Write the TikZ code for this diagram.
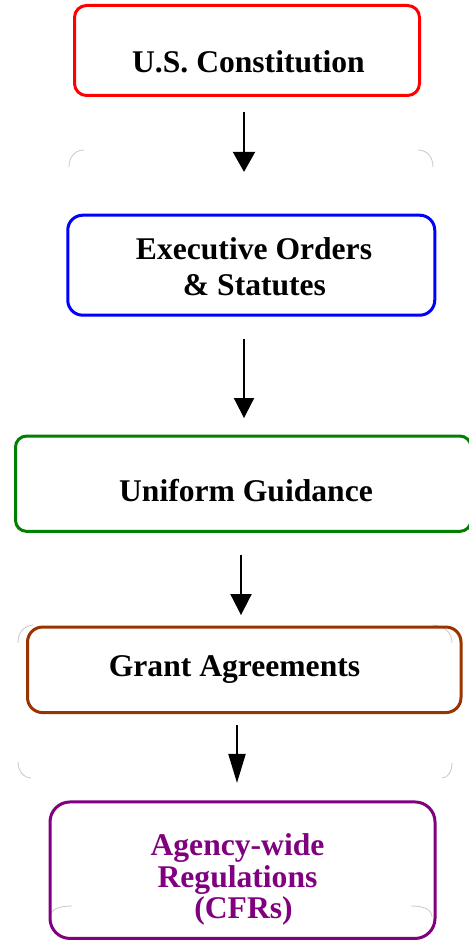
\documentclass[tikz,border=0pt]{standalone}
\usepackage{fontspec}
\setmainfont{Liberation Serif}
\usetikzlibrary{arrows.meta}

\definecolor{boxred}{RGB}{255,0,0}
\definecolor{boxblue}{RGB}{0,0,255}
\definecolor{boxgreen}{RGB}{0,128,0}
\definecolor{boxbrown}{RGB}{153,51,0}
\definecolor{boxpurple}{RGB}{128,0,128}
\definecolor{ghost}{RGB}{200,200,200}

\begin{document}
\begin{tikzpicture}[x=1pt, y=-1pt,
  stage/.style={draw=#1, line width=3pt, rounded corners=13pt, outer sep=0pt,
                inner sep=0pt, fill=none},
  label/.style={inner sep=0pt, anchor=base, font=\bfseries\fontsize{31.6}{36}\selectfont},
  link/.style={line width=2pt, shorten <=#1},
  ghostarc/.style={draw=ghost, line width=0.8pt}]

  \useasboundingbox[fill=white] (0,0) rectangle (468,941);

  % faint outlines of corners left behind
  \path[ghostarc] (69,167) .. controls (69,157) and (75,150) .. (84,150);
  \path[ghostarc] (418,150) .. controls (427,150) and (433,157) .. (433,167);
  \path[ghostarc] (18,762) .. controls (18,771) and (24,778) .. (31,778);
  \path[ghostarc] (452,763) .. controls (452,771) and (448,778) .. (442,778);
  \path[ghostarc] (18,643) .. controls (18,632) and (24,626) .. (33,625);
  \path[ghostarc] (433,625) .. controls (444,626) and (452,632) .. (452,643);
  \path[ghostarc] (50,917) .. controls (50,910) and (58,906) .. (72,906);
  \path[ghostarc] (411,906) .. controls (425,906) and (432,910) .. (432,917);

  % the five levels
  \node[stage=boxred, minimum width=345pt, minimum height=90pt,
        rounded corners=12pt] (constitution) at (247,50.5) {};
  \node[stage=boxblue, minimum width=367pt, minimum height=100pt,
        rounded corners=15pt] (orders) at (251.25,265.2) {};
  \node[stage=boxgreen, minimum width=455.5pt, minimum height=95.3pt,
        rounded corners=11pt] (guidance) at (243.25,483.7) {};
  \node[stage=boxbrown, minimum width=433.5pt, minimum height=85.5pt,
        rounded corners=15pt] (grants) at (244.25,669.8) {};
  \node[stage=boxpurple, minimum width=385pt, minimum height=136.5pt,
        rounded corners=20pt] (regs) at (242.5,870.2) {};

  % texts
  \node[label] (t-constitution) at (248.5,72.7) {U.S. Constitution};
  \node[label] (t-orders1) at (254,259) {Executive Orders};
  \node[label] (t-orders2) at (254.5,295) {\& Statutes};
  \node[label] (t-guidance) at (246,501.7) {Uniform Guidance};
  \node[label] (t-grants) at (234.5,676.7) {Grant Agreements};
  \node[label, text=boxpurple] (t-regs1) at (237.5,855) {Agency-wide};
  \node[label, text=boxpurple] (t-regs2) at (237.5,887) {Regulations};
  \node[label, text=boxpurple] (t-regs3) at (243.5,918) {(CFRs)};

  % connectors
  \draw[link=16.5pt, shorten >=29.3pt,
        -{Triangle[length=20pt,width=22pt,sep=14pt]}]
    ([xshift=-3pt]constitution.south) -- ([xshift=-3pt]constitution.south |- orders.north);
  \draw[link=24pt, shorten >=10pt,
        -{Triangle[length=20pt,width=20pt,sep=8pt]}]
    ([xshift=-7.25pt]orders.south) -- ([xshift=-7.25pt]orders.south |- guidance.north);
  \draw[link=23.7pt, shorten >=6pt,
        -{Triangle[length=21pt,width=21pt,sep=6pt]}]
    ([xshift=-2.25pt]guidance.south) -- ([xshift=-2.25pt]guidance.south |- grants.north);
  \draw[link=12.5pt, shorten >=15pt,
        -{Triangle[length=29pt,width=17pt,sep=4pt]}]
    ([xshift=-7.25pt]grants.south) -- ([xshift=-7.25pt]grants.south |- regs.north);
\end{tikzpicture}
\end{document}
